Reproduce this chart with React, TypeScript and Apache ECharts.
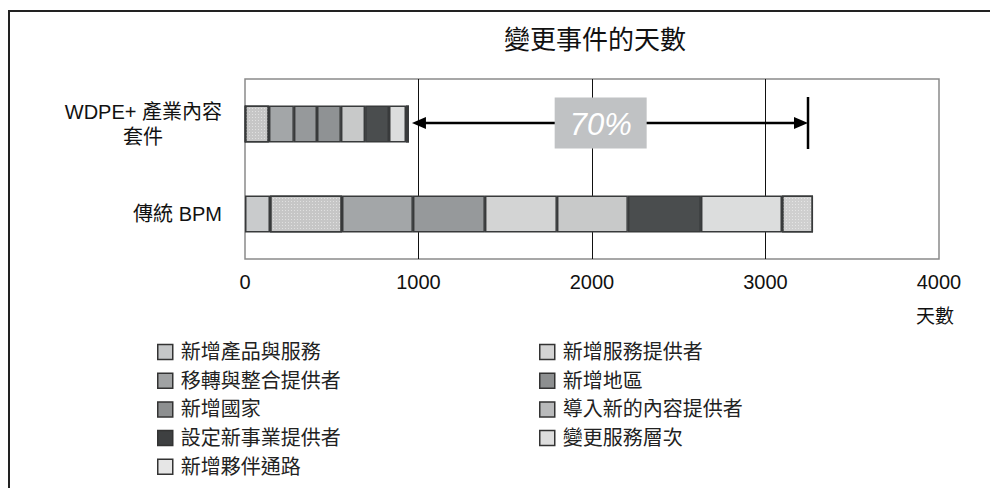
import React, { useEffect, useRef } from "react";
import * as echarts from "echarts";

// ---- data ----
const categories = ["WDPE+ 產業內容\n套件", "傳統 BPM"];
const seriesNames = [
  "新增產品與服務",
  "新增服務提供者",
  "移轉與整合提供者",
  "新增地區",
  "新增國家",
  "導入新的內容提供者",
  "設定新事業提供者",
  "變更服務層次",
  "新增夥伴通路",
];
const wdpeDays = [0, 138, 144, 133, 138, 139, 138, 98, 17];
const bpmDays = [144, 415, 409, 415, 415, 409, 421, 467, 179];
const legendLeftCol = ["新增產品與服務", "移轉與整合提供者", "新增國家", "設定新事業提供者", "新增夥伴通路"];
const legendRightCol = ["新增服務提供者", "新增地區", "導入新的內容提供者", "變更服務層次"];
const chartTitle = "變更事件的天數";
const axisName = "天數";
const reductionLabel = "70%";
const arrowEndDays = 3245;
const labelCenterDays = 2050;

// ---- styles ----
const FONT = "'Liberation Sans', 'Noto Sans CJK TC', sans-serif";
const seriesColors = ["#c9cbcc", "#c6c6c6", "#a3a6a8", "#96999b", "#8f9294", "#c8c9c9", "#4a4d4e", "#dcdddd", "#cfcfcf"];
const dottedSeries: Record<number, boolean> = { 1: true, 8: true };
const bpmOverride: Record<number, string> = { 4: "#d3d4d4" };
const legendColors: Record<string, string> = {
  "新增產品與服務": "#c5c7c8",
  "新增服務提供者": "#d3d3d3",
  "移轉與整合提供者": "#a0a2a3",
  "新增地區": "#8d8f90",
  "新增國家": "#8d8f90",
  "導入新的內容提供者": "#b9babb",
  "設定新事業提供者": "#3e4041",
  "變更服務層次": "#dedede",
  "新增夥伴通路": "#e6e6e6",
};

function legendComp(names: string[], left: number) {
  return {
    orient: "vertical",
    left,
    top: 337,
    icon: "rect",
    itemWidth: 15,
    itemHeight: 15,
    itemGap: 8.7,
    selectedMode: false,
    textStyle: { fontSize: 20, color: "#222", fontFamily: FONT, padding: [0, 0, 0, 3] },
    data: names.map((n) => ({
      name: n,
      itemStyle: { color: legendColors[n], borderColor: "#333", borderWidth: 1.5, decal: "none" },
    })),
  };
}

export default function App() {
  const ref = useRef<HTMLDivElement>(null);
  useEffect(() => {
    if (!ref.current) return;
    const chart = echarts.init(ref.current, undefined, { renderer: "svg" });
    const option: any = {
      animation: false,
      backgroundColor: "#fff",
      textStyle: { fontFamily: FONT },
      title: {
        text: chartTitle,
        left: 590,
        top: 22,
        textAlign: "center",
        textStyle: { fontSize: 26, fontWeight: "normal", color: "#111", fontFamily: FONT },
      },
      legend: [legendComp(legendLeftCol, 152), legendComp(legendRightCol, 534)],
      grid: {
        left: 245,
        top: 79,
        width: 694,
        height: 180,
        show: true,
        borderColor: "#8a8a8a",
        borderWidth: 1.5,
        backgroundColor: "transparent",
        containLabel: false,
      },
      xAxis: {
        type: "value",
        min: 0,
        max: 4000,
        interval: 1000,
        axisLine: { show: false },
        axisTick: { show: false },
        axisLabel: { fontSize: 20, color: "#111", margin: 13, fontFamily: FONT, formatter: (v: number) => String(v) },
        splitLine: { show: true, showMinLine: false, showMaxLine: false, lineStyle: { color: "#111", width: 1 } },
        name: axisName,
        nameLocation: "end",
        nameGap: -4,
        nameTextStyle: { fontSize: 19, color: "#111", align: "center", verticalAlign: "top", padding: [48, 0, 0, 0], fontFamily: FONT },
      },
      yAxis: {
        type: "category",
        inverse: true,
        data: categories,
        axisLine: { show: false },
        axisTick: { show: false },
        axisLabel: {
          margin: 23,
          align: "right",
          fontSize: 20,
          color: "#111",
          fontFamily: FONT,
          formatter: (v: string) => {
            const parts = v.split("\n");
            if (parts.length === 1) return "{a|" + v + "}";
            return "{a|" + parts[0] + "}\n{b|" + parts[1] + "}";
          },
          rich: {
            a: { fontSize: 20, color: "#111", fontFamily: FONT, lineHeight: 25 },
            b: { fontSize: 20, color: "#111", fontFamily: FONT, lineHeight: 25, padding: [0, 59, 0, 0] },
          },
        },
      },
      series: seriesNames.map((name, i) => ({
        name,
        type: "bar",
        stack: "days",
        barWidth: 37,
        itemStyle: {
          color: seriesColors[i],
          borderColor: "#383a3b",
          borderWidth: 1.5,
          decal: dottedSeries[i]
            ? { symbol: "rect", symbolSize: 1, dashArrayX: [1, 2], dashArrayY: [1, 2], color: "rgba(255,255,255,0.45)" }
            : "none",
        },
        data: [
          wdpeDays[i],
          bpmOverride[i] ? { value: bpmDays[i], itemStyle: { color: bpmOverride[i] } } : bpmDays[i],
        ],
      })),
    };
    chart.setOption(option);

    const wdpeTotal = wdpeDays.reduce((a, b) => a + b, 0);
    const [xL, y] = chart.convertToPixel({ gridIndex: 0 }, [wdpeTotal, categories[0]]) as number[];
    const [xR] = chart.convertToPixel({ gridIndex: 0 }, [arrowEndDays, categories[0]]) as number[];
    const [xC] = chart.convertToPixel({ gridIndex: 0 }, [labelCenterDays, categories[0]]) as number[];
    const ay = y - 1;
    const lS = xL + 3;
    chart.setOption({
      graphic: [
        {
          type: "rect",
          shape: { x: 9, y: 11, width: 1000, height: 520 },
          style: { fill: "none", stroke: "#222", lineWidth: 2 },
          silent: true,
        },
        {
          type: "line",
          shape: { x1: lS + 10, y1: ay, x2: xR - 10, y2: ay },
          style: { stroke: "#000", lineWidth: 2.5 },
        },
        {
          type: "polygon",
          shape: { points: [[lS, ay], [lS + 14, ay - 6], [lS + 14, ay + 6]] },
          style: { fill: "#000" },
        },
        {
          type: "polygon",
          shape: { points: [[xR, ay], [xR - 14, ay - 6], [xR - 14, ay + 6]] },
          style: { fill: "#000" },
        },
        {
          type: "line",
          shape: { x1: xR, y1: ay - 26, x2: xR, y2: ay + 26 },
          style: { stroke: "#000", lineWidth: 2.5 },
        },
        {
          type: "rect",
          shape: { x: xC - 46, y: ay - 25.5, width: 92, height: 51 },
          style: { fill: "#c0c2c4" },
        },
        {
          type: "text",
          x: xC,
          y: ay + 1,
          style: {
            text: reductionLabel,
            fill: "#fff",
            fontSize: 31,
            fontStyle: "italic",
            fontFamily: FONT,
            align: "center",
            verticalAlign: "middle",
          },
        },
      ],
    });
    return () => chart.dispose();
  }, []);
  return <div ref={ref} style={{ position: "fixed", left: 0, top: 0, width: 990, height: 488 }} />;
}
